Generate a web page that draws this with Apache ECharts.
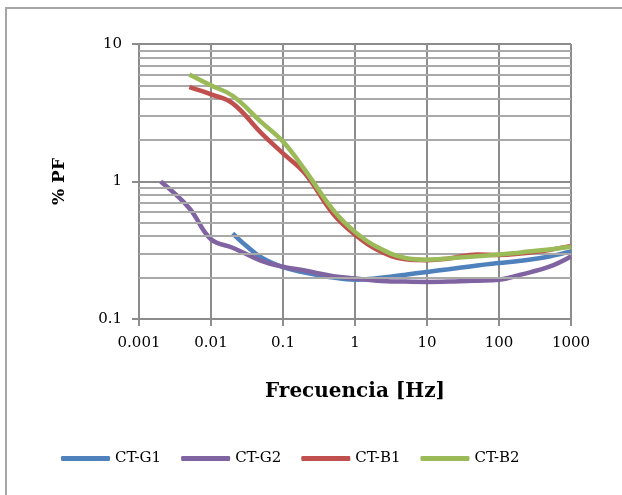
<!DOCTYPE html>
<html>
<head>
<meta charset="utf-8">
<script src="https://cdn.jsdelivr.net/npm/echarts@6/dist/echarts.min.js"></script>
<style>
html,body{margin:0;padding:0;background:#fff}
#chart{width:622px;height:495px}
</style>
</head>
<body>
<div id="chart"></div>
<script>
// valores
var g1Freq = [0.02, 0.03, 0.05, 0.1, 0.2, 0.5, 1, 2, 5, 10, 20, 50, 100, 200, 500, 1000];
var g1Pf   = [0.42, 0.345, 0.28, 0.238, 0.218, 0.2, 0.193, 0.198, 0.21, 0.22, 0.23, 0.245, 0.255, 0.265, 0.285, 0.31];

var g2Freq = [0.002, 0.005, 0.01, 0.02, 0.05, 0.1, 0.2, 0.5, 1, 2, 5, 10, 20, 50, 100, 200, 500, 1000];
var g2Pf   = [1.0, 0.64, 0.38, 0.33, 0.265, 0.24, 0.225, 0.205, 0.197, 0.19, 0.187, 0.186, 0.187, 0.19, 0.193, 0.21, 0.24, 0.285];

var b1Freq = [0.005, 0.01, 0.02, 0.05, 0.1, 0.2, 0.5, 1, 2, 5, 10, 20, 50, 100, 200, 500, 1000];
var b1Pf   = [4.85, 4.3, 3.7, 2.25, 1.6, 1.15, 0.58, 0.41, 0.32, 0.272, 0.268, 0.275, 0.295, 0.292, 0.3, 0.318, 0.34];

var b2Freq = [0.005, 0.01, 0.02, 0.05, 0.1, 0.2, 0.5, 1, 2, 5, 10, 20, 50, 100, 200, 500, 1000];
var b2Pf   = [6.0, 5.0, 4.2, 2.7, 1.95, 1.22, 0.62, 0.43, 0.335, 0.278, 0.27, 0.276, 0.286, 0.294, 0.305, 0.32, 0.335];

var seriesNames = ['CT-G1', 'CT-G2', 'CT-B1', 'CT-B2'];
var colors = ['#4F81BD', '#8064A2', '#C0504D', '#9BBB59'];
var minorGrid = [0.2, 0.3, 0.4, 0.5, 0.6, 0.7, 0.8, 0.9, 2, 3, 4, 5, 6, 7, 8, 9];

function zip(xs, ys) {
    var out = [];
    for (var i = 0; i < xs.length; i++) out.push([xs[i], ys[i]]);
    return out;
}
function fmt(v) {
    return String(+Number(v).toPrecision(3));
}

var font = 'DejaVu Serif';
var gridColor = '#8c8c8c';

var chart = echarts.init(document.getElementById('chart'));

var lineData = [zip(g1Freq, g1Pf), zip(g2Freq, g2Pf), zip(b1Freq, b1Pf), zip(b2Freq, b2Pf)];
var series = [{
    name: 'minor',
    type: 'line',
    data: [],
    silent: true,
    z: 1,
    markLine: {
        silent: true,
        symbol: 'none',
        label: {show: false},
        animation: false,
        lineStyle: {color: '#a9a9a9', width: 2, type: 'solid'},
        data: minorGrid.map(function (v) { return {yAxis: v}; })
    }
}];
for (var i = 0; i < seriesNames.length; i++) {
    series.push({
        name: seriesNames[i],
        type: 'line',
        data: lineData[i],
        smooth: 0.4,
        showSymbol: false,
        z: 3 + i,
        lineStyle: {color: colors[i], width: 4.5},
        itemStyle: {color: colors[i]}
    });
}

var option = {
    animation: false,
    backgroundColor: '#fff',
    graphic: [{
        type: 'rect',
        shape: {x: 6, y: 8, width: 640, height: 520},
        style: {fill: 'none', stroke: '#a6a6a6', lineWidth: 2},
        z: 0
    }],
    grid: {left: 139, right: 51, top: 44, bottom: 176},
    legend: {
        data: seriesNames,
        left: 56,
        top: 446,
        icon: 'roundRect',
        itemWidth: 49,
        itemHeight: 5,
        itemGap: 20,
        textStyle: {fontFamily: font, fontSize: 15, color: '#000'}
    },
    xAxis: {
        type: 'log',
        logBase: 10,
        min: 0.001,
        max: 1000,
        interval: 1,
        name: 'Frecuencia [Hz]',
        nameLocation: 'middle',
        nameGap: 63,
        nameTextStyle: {fontFamily: font, fontSize: 20, fontWeight: 'bold', color: '#000'},
        axisLine: {lineStyle: {color: gridColor, width: 2}},
        axisTick: {show: true, length: 7, lineStyle: {color: gridColor, width: 2}},
        axisLabel: {fontFamily: font, fontSize: 15, color: '#000', margin: 17, formatter: fmt},
        splitLine: {show: true, lineStyle: {color: gridColor, width: 2}}
    },
    yAxis: {
        type: 'log',
        logBase: 10,
        min: 0.1,
        max: 10,
        interval: 1,
        name: '% PF',
        nameLocation: 'middle',
        nameGap: 71,
        nameTextStyle: {fontFamily: font, fontSize: 17, fontWeight: 'bold', color: '#000'},
        axisLine: {show: true, lineStyle: {color: gridColor, width: 2}},
        axisTick: {show: true, length: 7, lineStyle: {color: gridColor, width: 2}},
        axisLabel: {fontFamily: font, fontSize: 15, color: '#000', margin: 17, formatter: fmt},
        splitLine: {show: true, lineStyle: {color: gridColor, width: 2}}
    },
    series: series
};

chart.setOption(option);
</script>
</body>
</html>
